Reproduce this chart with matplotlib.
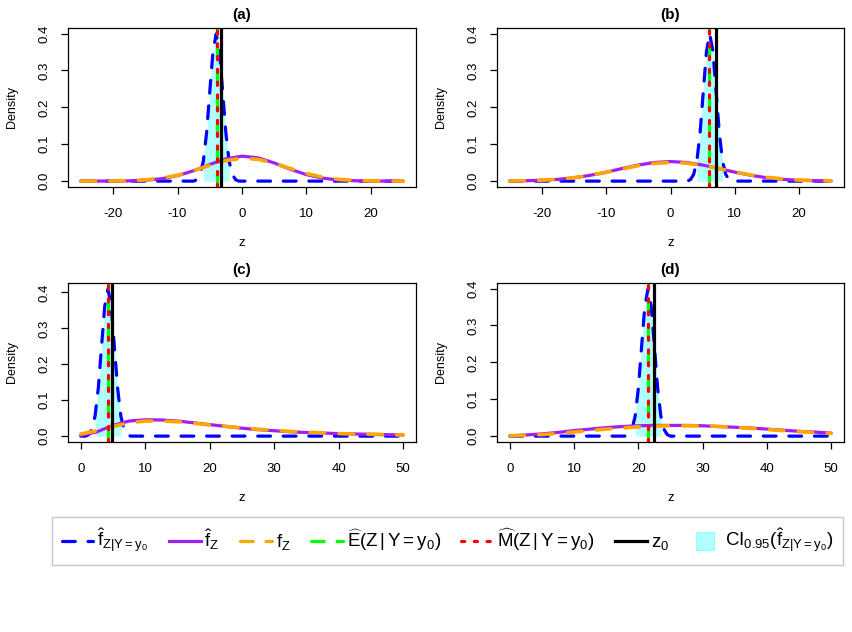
import matplotlib
matplotlib.use("Agg")
import matplotlib.pyplot as plt
from matplotlib.lines import Line2D
import numpy as np

plt.rcParams['font.family'] = ['Liberation Sans', 'DejaVu Sans']
plt.rcParams['mathtext.fontset'] = 'custom'
plt.rcParams['mathtext.rm'] = 'Liberation Sans'
plt.rcParams['mathtext.it'] = 'Liberation Sans'
plt.rcParams['mathtext.bf'] = 'Liberation Sans:bold'

# ---- data ----
GRID_AB = [-25, -22.5, -20, -17.5, -15, -12.5, -10, -7.5, -5, -2.5, 0,
           2.5, 5, 7.5, 10, 12.5, 15, 17.5, 20, 22.5, 25]
GRID_CD = [0, 2.5, 5, 7.5, 10, 12.5, 15, 17.5, 20, 22.5, 25,
           27.5, 30, 32.5, 35, 37.5, 40, 42.5, 45, 47.5, 50]

# panel (a)
A_FHAT = [0.0, 0.0001, 0.0002, 0.0007, 0.0023, 0.0064, 0.0148, 0.0282, 0.0451, 0.0604, 0.0676,
          0.0631, 0.0492, 0.0321, 0.0175, 0.0080, 0.0030, 0.0010, 0.0003, 0.0001, 0.0]
A_FZ = [0.0, 0.0001, 0.0004, 0.0012, 0.0033, 0.0079, 0.0161, 0.0284, 0.0429, 0.0556, 0.0618,
        0.0590, 0.0484, 0.0341, 0.0206, 0.0107, 0.0048, 0.0018, 0.0006, 0.0002, 0.0]
A_COND_X = [-25, -7.5, -7, -6.5, -6, -5.5, -5, -4.5, -4, -3.5, -3, -2.5, -2, -1.5, -1, -0.5, 25]
A_COND_Y = [0, 0, 0.004, 0.018, 0.054, 0.130, 0.242, 0.352, 0.399, 0.352, 0.242, 0.130, 0.054,
            0.018, 0.004, 0, 0]
A_E, A_M, A_Z0 = -3.95, -3.95, -3.2
A_CI = (-6, -2)

# panel (b)
B_FHAT = [0.0004, 0.0010, 0.0023, 0.0048, 0.0092, 0.0157, 0.0243, 0.0342, 0.0436, 0.0505, 0.0530,
          0.0505, 0.0436, 0.0342, 0.0243, 0.0157, 0.0092, 0.0048, 0.0023, 0.0010, 0.0004]
B_FZ = [0.0004, 0.0011, 0.0025, 0.0051, 0.0094, 0.0157, 0.0238, 0.0330, 0.0418, 0.0480, 0.0505,
        0.0486, 0.0426, 0.0342, 0.0250, 0.0168, 0.0103, 0.0058, 0.0030, 0.0014, 0.0006]
B_COND_X = [-25, 2.6, 3.1, 3.6, 4.1, 4.6, 5.1, 5.6, 6.1, 6.6, 7.1, 7.6, 8.1, 8.6, 9.1, 9.6, 25]
B_COND_Y = [0, 0, 0.004, 0.018, 0.054, 0.130, 0.242, 0.352, 0.399, 0.352, 0.242, 0.130, 0.054,
            0.018, 0.004, 0, 0]
B_E, B_M, B_Z0 = 6.05, 6.05, 7.1
B_CI = (4.1, 8.1)

# panel (c)
C_FHAT = [0.002, 0.012, 0.030, 0.042, 0.0455, 0.045, 0.042, 0.037, 0.032, 0.027, 0.022,
          0.018, 0.015, 0.012, 0.010, 0.0085, 0.007, 0.006, 0.005, 0.004, 0.003]
C_FZ = [0.006, 0.015, 0.027, 0.037, 0.042, 0.042, 0.040, 0.036, 0.031, 0.027, 0.023,
        0.019, 0.016, 0.013, 0.011, 0.009, 0.007, 0.006, 0.005, 0.004, 0.003]
C_COND_X = [0, 0.7, 1.2, 1.7, 2.2, 2.7, 3.2, 3.7, 4.2, 4.7, 5.2, 5.7, 6.2, 6.7, 7.2, 7.7, 50]
C_COND_Y = [0, 0, 0.004, 0.018, 0.056, 0.133, 0.249, 0.362, 0.410, 0.362, 0.249, 0.133, 0.056,
            0.018, 0.004, 0, 0]
C_E, C_M, C_Z0 = 4.15, 4.15, 4.9
C_CI = (2.2, 6.2)

# panel (d)
D_FHAT = [0.001, 0.003, 0.006, 0.010, 0.015, 0.019, 0.023, 0.026, 0.028, 0.029, 0.029,
          0.029, 0.028, 0.026, 0.024, 0.022, 0.019, 0.016, 0.013, 0.011, 0.008]
D_FZ = [0.001, 0.002, 0.004, 0.007, 0.011, 0.015, 0.019, 0.022, 0.025, 0.027, 0.028,
        0.028, 0.028, 0.026, 0.024, 0.021, 0.018, 0.015, 0.012, 0.010, 0.007]
D_COND_X = [0, 18, 18.5, 19, 19.5, 20, 20.5, 21, 21.5, 22, 22.5, 23, 23.5, 24, 24.5, 25, 50]
D_COND_Y = [0, 0, 0.004, 0.018, 0.054, 0.130, 0.242, 0.352, 0.399, 0.352, 0.242, 0.130, 0.054,
            0.018, 0.004, 0, 0]
D_E, D_M, D_Z0 = 21.5, 21.5, 22.4
D_CI = (19.5, 23.5)

TICKS_AB = [-20, -10, 0, 10, 20]
TICKS_CD = [0, 10, 20, 30, 40, 50]
YTICKS = [0.0, 0.1, 0.2, 0.3, 0.4]

panels = [
    ("(a)", GRID_AB, A_FHAT, A_FZ, A_COND_X, A_COND_Y, A_E, A_M, A_Z0, A_CI, TICKS_AB),
    ("(b)", GRID_AB, B_FHAT, B_FZ, B_COND_X, B_COND_Y, B_E, B_M, B_Z0, B_CI, TICKS_AB),
    ("(c)", GRID_CD, C_FHAT, C_FZ, C_COND_X, C_COND_Y, C_E, C_M, C_Z0, C_CI, TICKS_CD),
    ("(d)", GRID_CD, D_FHAT, D_FZ, D_COND_X, D_COND_Y, D_E, D_M, D_Z0, D_CI, TICKS_CD),
]

W, H = 852, 632
rects = [(68, 28, 416, 187), (497, 28, 844, 187), (68, 283, 416, 442), (497, 283, 844, 442)]

LW = 2.3
DASH = (0, (4, 4))
DOT = (0, (1, 3))

fig = plt.figure(figsize=(W / 100, H / 100), dpi=100)

for (title, grid, fhat, fz, cx, cy, e, m, z0, ci, xt), (x0, y0, x1, y1) in zip(panels, rects):
    ax = fig.add_axes([x0 / W, 1 - y1 / H, (x1 - x0) / W, (y1 - y0) / H])
    cx = np.array(cx)
    cy = np.array(cy)
    ax.fill_between(cx, cy, where=(cx >= ci[0]) & (cx <= ci[1]), color='cyan', alpha=0.3, lw=0)
    ax.plot(cx, cy, color='blue', lw=LW, ls=DASH, dash_capstyle='round')
    ax.plot(grid, fhat, color='#a020f0', lw=LW, solid_capstyle='round')
    ax.plot(grid, fz, color='orange', lw=LW + 0.3, ls=DASH, dash_capstyle='round')
    ax.axvline(e, color='#00ff00', lw=LW, ls=DASH, dash_capstyle='round')
    ax.axvline(m, color='red', lw=LW, ls=DOT, dash_capstyle='round')
    ax.axvline(z0, color='black', lw=LW)

    span = grid[-1] - grid[0]
    ax.set_xlim(grid[0] - 0.04 * span, grid[-1] + 0.04 * span)
    top = max(cy)
    ax.set_ylim(-0.04 * top, 1.04 * top)
    ax.set_xticks(xt)
    ax.set_xticklabels([str(t) for t in xt])
    ax.set_yticks(YTICKS)
    ax.set_yticklabels(["%.1f" % t for t in YTICKS], rotation=90, va='center')
    ax.tick_params(axis='both', direction='out', length=5, width=0.9, labelsize=9.5)
    ax.tick_params(axis='x', pad=10)
    ax.tick_params(axis='y', pad=7.5)
    for s in ax.spines.values():
        s.set_linewidth(0.9)
    ax.set_title(title, fontsize=11, fontweight='bold', pad=6.5)
    ax.set_xlabel('z', fontsize=9.5, va='center')
    ax.xaxis.set_label_coords(0.5, -56 / (y1 - y0))
    ax.set_ylabel('Density', fontsize=9, va='center')
    ax.yaxis.set_label_coords(-56 / (x1 - x0), 0.5)

handles = [
    Line2D([], [], color='blue', lw=LW, ls=DASH, dash_capstyle='round'),
    Line2D([], [], color='#a020f0', lw=LW),
    Line2D([], [], color='orange', lw=LW, ls=DASH, dash_capstyle='round'),
    Line2D([], [], color='#00ff00', lw=LW, ls=DASH, dash_capstyle='round'),
    Line2D([], [], color='red', lw=LW, ls=DOT, dash_capstyle='round'),
    Line2D([], [], color='black', lw=LW),
    Line2D([], [], color='cyan', alpha=0.3, marker='s', markersize=13, ls='none'),
]
labels = [
    r'$\hat{f}_{Z|Y=y_0}$',
    r'$\hat{f}_Z$',
    r'$f_Z$',
    r'$\widehat{E}(Z\,|\,Y = y_0)$',
    r'$\widehat{M}(Z\,|\,Y = y_0)$',
    r'$z_0$',
    r'$CI_{0.95}(\hat{f}_{Z|Y=y_0})$',
]
leg = fig.legend(handles, labels, loc='center', bbox_to_anchor=(447.5 / W, 1 - 541 / H),
                 ncol=7, fontsize=13.5, frameon=True, fancybox=False, edgecolor='#b8b8b8',
                 handlelength=1.7, handletextpad=0.2, columnspacing=1.1, borderpad=0.5)
leg.get_frame().set_linewidth(1.0)

fig.savefig('out.png', dpi=100)
